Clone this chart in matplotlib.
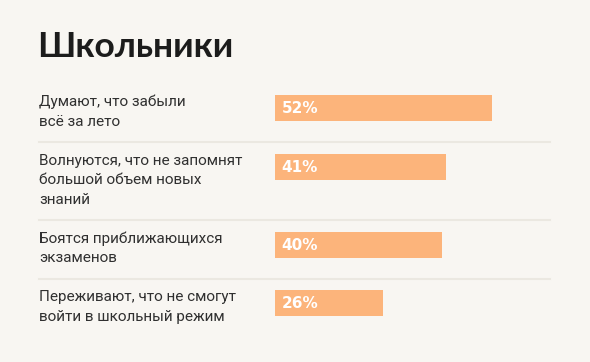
import matplotlib
matplotlib.use("Agg")
import matplotlib.pyplot as plt

title = "Школьники"
labels = [
    "Думают, что забыли\nвсё за лето",
    "Волнуются, что не запомнят\nбольшой объем новых\nзнаний",
    "Боятся приближающихся\nэкзаменов",
    "Переживают, что не смогут\nвойти в школьный режим",
]
values = [52, 41, 40, 26]

bg = "#f8f6f2"
bar_color = "#fcb47b"
sep_color = "#ebe8e1"

W, H = 590, 362
fig = plt.figure(figsize=(W / 100, H / 100), dpi=100, facecolor=bg)

# bar axes: starts at x=275px, ends at 550px; y in pixels from top
x0_px, x1_px = 275, 550
xmax = 66
ax = fig.add_axes([x0_px / W, 0, (x1_px - x0_px) / W, 1])
ax.set_xlim(0, xmax)
ax.set_ylim(H, 0)
ax.axis("off")
ax.set_facecolor(bg)

px = xmax / (x1_px - x0_px)  # data units per pixel
label_x = -(x0_px - 39) * px
line_end = xmax

fig.text(37 / W, 1 - 47 / H, title, fontsize=25.5, fontweight="bold",
         family="Lato", color="#1c1c1c", va="center", ha="left")

top = 95
bar_h = 26
line_gap = 19.5
for lab, v in zip(labels, values):
    n = lab.count("\n") + 1
    yc = top + bar_h / 2
    ax.barh(yc, v, height=bar_h, color=bar_color, edgecolor="none")
    ax.text(1.6, yc + 0.5, f"{v}%", color="white", fontsize=11, fontweight="bold",
            family="DejaVu Sans", va="center", ha="left")
    for i, ln in enumerate(lab.split("\n")):
        ax.text(label_x, top + 7 + i * line_gap, ln, fontsize=11, family="Roboto",
                color="#303030", va="center", ha="left", clip_on=False)
    sep = top + line_gap * n + 8
    if lab != labels[-1]:
        ax.plot([label_x, line_end], [sep, sep], color=sep_color, lw=1.5,
                clip_on=False)
    top = sep + 11.5

fig.savefig("out.png", dpi=100, facecolor=bg)
